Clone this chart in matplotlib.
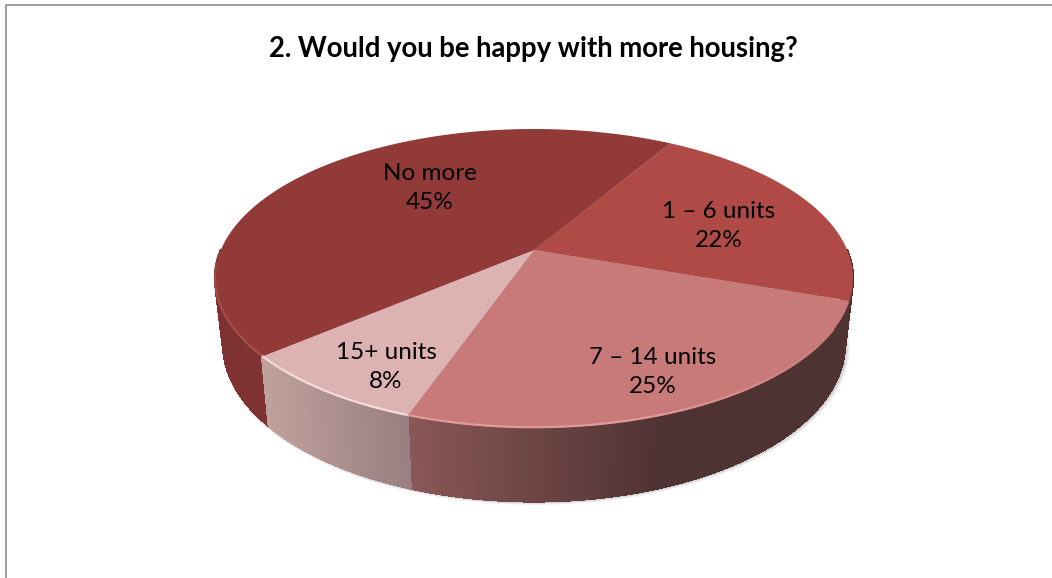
import numpy as np
import matplotlib
matplotlib.use("Agg")
import matplotlib.pyplot as plt
from matplotlib.path import Path
from matplotlib.transforms import Transform, Affine2D
from matplotlib.colors import to_rgb
from matplotlib.collections import PolyCollection, LineCollection

TITLE = "2. Would you be happy with more housing?"
categories = ["1 – 6 units", "7 – 14 units", "15+ units", "No more"]
values = [21.9, 25.0, 8.4, 44.7]
top_colors = ["#af4a46", "#c87a78", "#dcb2b2", "#913a38"]
rim_colors = ["#af4a46", "#e29c9c", "#f6dede", "#a94f4c"]
side_left = ["#5a2c2c", "#8a5757", "#bfa19c", "#7e3231"]
side_right = ["#5a2c2c", "#4f3232", "#9a7f80", "#7e3231"]
label_xy = [(719, 226), (653, 372), (386, 367), (430, 188)]

START = 30.5
CX, CY = 534.0, 250.0
A, D, C = 144.07, 313.2, 0.1906

plt.rcParams["font.family"] = ["Lato", "DejaVu Sans"]


class Tilt(Transform):
    input_dims = output_dims = 2
    has_inverse = False

    def transform_non_affine(self, xy):
        xy = np.asarray(xy, float)
        w = 1 + C * xy[:, 1]
        return np.column_stack((CX + D * xy[:, 0] / w, CY - A * xy[:, 1] / w))

    def transform_path_non_affine(self, path):
        big = path.transformed(Affine2D().scale(2000)).to_polygons(closed_only=True)[0] / 2000
        return Path(self.transform_non_affine(big))


tilt = Tilt()


def rim(theta):
    t = np.radians(theta)
    return tilt.transform_non_affine(np.column_stack((np.sin(t), np.cos(t))))


def base(pts):
    return np.column_stack((CX + 0.975 * (pts[:, 0] - CX), 1.055 * pts[:, 1] + 50))


fig = plt.figure(figsize=(10.52, 5.78), dpi=100, facecolor="white")
ax = fig.add_axes([0, 0, 1, 1])
wedges, _ = ax.pie(values, colors=top_colors, startangle=90 - START, counterclock=False,
                   wedgeprops={"linewidth": 0})
ax.set_aspect("auto")
ax.set_xlim(0, 1052)
ax.set_ylim(578, 0)
ax.axis("off")
for w in wedges:
    w.set_transform(tilt + ax.transData)
    w.set_zorder(5)
    w.set_clip_on(False)

# soft shadow beneath the base
ring = base(rim(np.linspace(0, 360, 361)))
for k, alpha in zip(range(6, 0, -1), [0.04, 0.06, 0.08, 0.10, 0.13, 0.16]):
    shifted = ring.copy()
    shifted[:, 0] = CX + (shifted[:, 0] - CX) * (1 + k * 0.0016) + k * 0.35
    shifted[:, 1] = shifted[:, 1] + k * 0.6
    ax.fill(shifted[:, 0], shifted[:, 1], color="#666666", alpha=alpha, lw=0, zorder=1)

# side wall
edges = START + np.cumsum([0] + values) * 3.6
for i in range(len(values)):
    lo, hi = max(edges[i], 90.0), min(edges[i + 1], 270.0)
    if hi <= lo:
        continue
    th = np.arange(lo, hi + 0.25, 0.25)
    th[-1] = hi
    up, dn = rim(th), base(rim(th))
    x0, x1 = up[:, 0].min(), up[:, 0].max()
    stop = min(x1, 665.0)
    polys, cols = [], []
    c0, c1 = np.array(to_rgb(side_left[i])), np.array(to_rgb(side_right[i]))
    for j in range(len(th) - 1):
        polys.append([up[j], up[j + 1], dn[j + 1], dn[j]])
        f = np.clip((0.5 * (up[j, 0] + up[j + 1, 0]) - x0) / max(stop - x0, 1), 0, 1)
        cols.append(tuple(c0 + (c1 - c0) * f))
    ax.add_collection(PolyCollection(polys, facecolors=cols, edgecolors=cols, linewidths=0.8,
                                     antialiaseds=False, zorder=3 + 0.01 * (i == 2)))

# light bevel along the front rim
for i in range(len(values)):
    lo, hi = max(edges[i], 120.0), min(edges[i + 1], 268.0)
    if hi <= lo:
        continue
    th = np.arange(lo, hi + 0.5, 0.5)
    th[-1] = hi
    p = rim(th)
    p[:, 1] -= 0.8
    base_col = np.array(to_rgb(top_colors[i]))
    lite = np.array(to_rgb(rim_colors[i]))
    segs, cols = [], []
    for j in range(len(th) - 1):
        fade = np.clip((th[j] - 120.0) / 45.0, 0, 1) * np.clip((268.0 - th[j]) / 10.0, 0, 1)
        segs.append(p[j:j + 2])
        cols.append(tuple(base_col + (lite - base_col) * fade))
    ax.add_collection(LineCollection(segs, colors=cols, linewidths=1.6, zorder=6))

# labels
for name, val, (x, y) in zip(categories, values, label_xy):
    ax.text(x, y, f"{name}\n{round(val)}%", ha="center", va="center", fontsize=17.5, color="black",
            linespacing=1.52, zorder=8)

ax.text(533.5, 48.5, TITLE, ha="center", va="center", fontsize=19.8, fontweight="bold", color="black", zorder=8)

# chart frame (left and top edges)
ax.plot([5.5, 5.5, 1052], [578, 4.5, 4.5], color="#8c8c8c", lw=1.2, solid_joinstyle="miter", zorder=9,
        clip_on=False)

fig.savefig("out.png", dpi=100, facecolor="white")
